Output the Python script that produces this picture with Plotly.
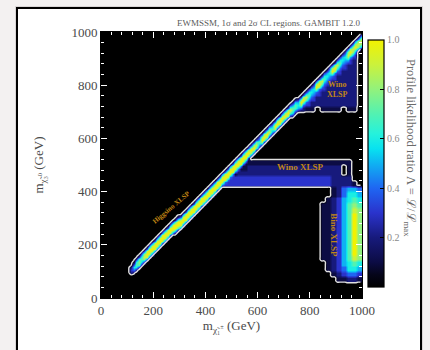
import numpy as np
import plotly.graph_objects as go

# ---------------------------------------------------------------- data ---
# 10 GeV cells: centres of the chargino (x) and neutralino (y) mass bins
m_chargino = list(range(5, 1000, 10))
m_neutralino = list(range(5, 1000, 10))

# one character per cell -> profile likelihood ratio
LEVELS = {'.': 0.0, '1': 0.1, '2': 0.2, '3': 0.3, '4': 0.4, '5': 0.5,
          '6': 0.6, '7': 0.7, '8': 0.8, '9': 0.9, '#': 1.0}

# degenerate strip along the diagonal, one character per 10 GeV chargino column.
# rows: 10 GeV above the diagonal, on it, and 10/20/30/40 GeV below it
strip_p1 = ("..........." + ".12333" + "4" * 11 + "22" + "4" * 26
            + "3" * 14 + "333" + "22" + "3" * 19 + "444444")
strip_0 = ("..........." + "246768" + "9" * 11 + "77" + "9" * 26
           + "88875888758888" + "887" + "55" + "5" + "887655" * 3 + "888888")
strip_m1 = ("..........." + "367879" + "#" * 11 + "##" + "#" * 26
            + "###97###97####" + "##9" + "77" + "6" + "##9766" * 3 + "9#9#99")
strip_m2 = ("..........." + "246768" + "9" * 11 + "##" + "9" * 26
            + "88875888758888" + "887" + "77" + "5" + "887655" * 3 + "888888")
strip_m3 = ("..........." + ".12333" + "4" * 11 + "77" + "4" * 26
            + "3" * 14 + "333" + "55" + "3" + "4" * 18 + "555555")
strip_m4 = ("..........." + "......" + "." * 11 + "22" + "." * 26
            + "." * 14 + "..." + "22" + "." * 19 + "......")
# how many extra 10 GeV rows the strip sits below the diagonal
strip_drop = "0" * 30 + "1" * 45 + "2" * 25

# off-diagonal islands on a 20 GeV raster:
# (m_neutralino, first m_chargino, codes per 20 GeV)
island_runs = [
    (910, 970, "3"),
    (890, 950, "32"),
    (870, 930, "322"),
    (850, 910, "3222"),
    (830, 890, "32222"),
    (810, 870, "322222"),
    (790, 850, "3222222"),
    (770, 830, "32222222"),
    (750, 810, "322222222"),
    (730, 790, "3222222222"),
    (710, 770, "211.1111.11"),
    (510, 550, "111111111111111111111"),
    (490, 530, "11222222222222222222.1"),
    (470, 510, "122222222222222222222.1"),
    (450, 490, "333333333333333333332222"),
    (430, 470, "33333333333333333333322221"),
    (410, 890, "124554"),
    (390, 890, "124665"),
    (370, 870, "1235676"),
    (350, 850, "11235787"),
    (330, 850, "11235798"),
    (310, 850, "112357#8"),
    (290, 850, "112357#8"),
    (270, 850, "112357#8"),
    (250, 850, "112357#8"),
    (230, 850, "112357#8"),
    (210, 850, "112357#8"),
    (190, 850, "112357#8"),
    (170, 850, "112357#8"),
    (150, 850, "11235798"),
    (130, 870, "1235676"),
    (110, 870, "1234665"),
    (90, 890, "123443"),
    (70, 910, "11221"),
]

x_ticks = [0, 200, 400, 600, 800, 1000]
cbar_ticks = [0.2, 0.4, 0.6, 0.8, 1.0]

region_labels = [
    # (x, y, text, angle, size)
    (272, 342, "Higgsino XLSP", -40, 7),
    (907, 785, "Wino<br>XLSP", 0, 8),
    (765, 492, "Wino XLSP", 0, 9),
    (892, 237, "Bino XLSP", 90, 9),
]

# ------------------------------------------------------- likelihood grid ---
n = len(m_chargino)
strips = [(1, strip_p1), (0, strip_0), (-1, strip_m1), (-2, strip_m2),
          (-3, strip_m3), (-4, strip_m4)]
for _, s in strips:
    assert len(s) == n, len(s)
assert len(strip_drop) == n

Z = np.zeros((len(m_neutralino), n))


def put(r, c, v):
    if 0 <= r < Z.shape[0] and 0 <= c < Z.shape[1]:
        Z[r, c] = max(Z[r, c], v)


for j in range(n):
    d = int(strip_drop[j])
    for dr, codes in strips:
        put(j + dr - d, j, LEVELS[codes[j]])

for y, x0, codes in island_runs:
    for k, ch in enumerate(codes):
        xc = x0 + 20 * k
        for xs in (xc - 5, xc + 5):
            for ys in (y - 5, y + 5):
                put(m_neutralino.index(ys), m_chargino.index(xs), LEVELS[ch])

colorscale = [
    [0.00, '#000000'], [0.05, '#05051a'], [0.10, '#0c0c44'],
    [0.20, '#171a7c'], [0.30, '#2a33cc'], [0.40, '#1f66f2'],
    [0.50, '#0fb2f2'], [0.56, '#08e2f0'], [0.62, '#25f2dc'],
    [0.70, '#52f2b2'], [0.80, '#92f27c'], [0.90, '#cbf23c'],
    [1.00, '#f2f200'],
]

SERIF = 'Liberation Serif, DejaVu Serif, serif'

fig = go.Figure()
fig.add_trace(go.Heatmap(
    x=m_chargino, y=m_neutralino, z=Z, zmin=0, zmax=1, zsmooth='best',
    colorscale=colorscale, hoverinfo='skip',
    colorbar=dict(
        x=(368 - 101) / 261, xanchor='left', y=0.506, yanchor='middle',
        len=0.929, lenmode='fraction', thickness=16, thicknessmode='pixels',
        xpad=0, ypad=0, outlinecolor='black', outlinewidth=1.2,
        ticks='inside', ticklen=4, tickcolor='black',
        tickvals=cbar_ticks, tickformat='.1f',
        tickfont=dict(size=10, color='#8a8a8a', family=SERIF),
    ),
))
# 2 sigma confidence region outline (Lambda = exp(-6.18/2))
fig.add_trace(go.Contour(
    x=m_chargino, y=m_neutralino, z=Z, autocontour=False,
    contours=dict(start=0.0455, end=0.0455, size=0.1, coloring='none'),
    line=dict(color='#e0e0e0', width=1.4, smoothing=1.0),
    showscale=False, hoverinfo='skip',
))

orange = '#c08614'
for x, y, text, ang, size in region_labels:
    fig.add_annotation(x=x, y=y, xref='x', yref='y', text='<b>' + text + '</b>',
                       showarrow=False, textangle=ang,
                       font=dict(size=size, color=orange, family=SERIF))

# panel title and colour bar label
fig.add_annotation(x=1.0, y=(298 - 23) / 266, xref='paper', yref='paper',
                   xanchor='right', yanchor='middle', showarrow=False,
                   text='EWMSSM, 1σ and 2σ CL regions. GAMBIT 1.2.0',
                   font=dict(size=9, color='#5a5a5a', family=SERIF))
fig.add_annotation(x=(420 - 101) / 261, y=(298 - 148) / 266, xref='paper', yref='paper',
                   showarrow=False, textangle=90,
                   text='Profile likelihood ratio Λ = ℒ/ℒ<sub>max</sub>',
                   font=dict(size=12.5, color='#6a6a6a', family=SERIF))

# white card behind the chart
fig.add_shape(type='rect', xref='paper', yref='paper',
              x0=(15 - 101) / 261, x1=(423 - 101) / 261,
              y0=(298 - 362) / 266, y1=(298 - 6) / 266,
              fillcolor='#d9d6d6', line=dict(width=0), layer='below')
fig.add_shape(type='rect', xref='paper', yref='paper',
              x0=(17 - 101) / 261, x1=(421 - 101) / 261,
              y0=(298 - 360) / 266, y1=(298 - 8) / 266,
              fillcolor='white', line=dict(color='black', width=2), layer='below')

axis_font = dict(size=13, color='#4a4a4a', family=SERIF)
common = dict(range=[0, 1000], tickvals=x_ticks, ticks='inside', ticklen=6,
              tickcolor='white', tickwidth=1, mirror='ticks', showline=True,
              linecolor='black', linewidth=1, showgrid=False, zeroline=False,
              tickfont=axis_font, automargin=False,
              minor=dict(ticks='inside', ticklen=3, dtick=40, tickcolor='white',
                         showgrid=False))
fig.update_xaxes(**common,
                 title=dict(text='m<sub>χ̃₁<sup>±</sup></sub> (GeV)', standoff=4,
                            font=dict(size=13, color='#4a4a4a', family=SERIF)))
fig.update_yaxes(**common,
                 title=dict(text='m<sub>χ̃₃<sup>0</sup></sub> (GeV)', standoff=24,
                            font=dict(size=13, color='#4a4a4a', family=SERIF)))

fig.update_layout(width=430, height=350, margin=dict(l=101, r=68, t=32, b=52),
                  paper_bgcolor='#f3f1f1', plot_bgcolor='black', showlegend=False)

fig.write_html("out.html")
